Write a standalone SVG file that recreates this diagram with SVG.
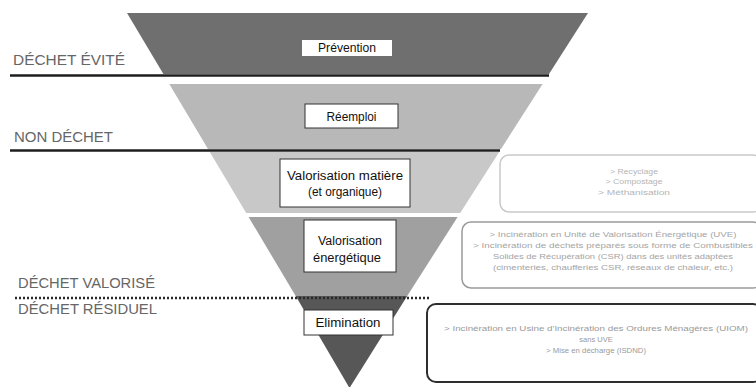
<svg xmlns="http://www.w3.org/2000/svg" width="756" height="387" viewBox="0 0 756 387">
<style>
.lbl{font-family:"Liberation Sans",Arial,sans-serif;font-size:14px;fill:#666}
.node rect{fill:#fff;stroke:#333;stroke-width:1}
.nt{font-family:"Liberation Sans",Arial,sans-serif;font-size:12.5px;fill:#111;text-anchor:middle}
.dt{font-family:"Liberation Sans",Arial,sans-serif;font-size:7.5px;text-anchor:middle}
.sep{stroke:#1e1e1e;stroke-width:2.5}
</style>
<rect width="756" height="387" fill="#fff"/>
<g id="bands">
<polygon points="127,13 588,13 549,74 163.4,74" fill="#6f6f6f"/>
<polygon points="169.3,84 542.6,84 501,149 208,149" fill="#b8b8b8"/>
<polygon points="209.8,152 499.2,152 460.2,213 246.2,213" fill="#c8c8c8"/>
<polygon points="248.6,217 457.6,217 407.2,296 295.7,296" fill="#a0a0a0"/>
<polygon points="295.7,296 407.2,296 349.5,388" fill="#575757"/>
</g>
<g id="connectors">
<line class="sep" x1="10" y1="75.5" x2="549" y2="75.5"/>
<line class="sep" x1="10" y1="150.5" x2="500" y2="150.5"/>
<line x1="15" y1="298" x2="430" y2="298" stroke="#2a2a2a" stroke-width="2.5" stroke-dasharray="2 2"/>
</g>
<g id="labels">
<text class="lbl" x="13" y="65" textLength="112" lengthAdjust="spacingAndGlyphs">DÉCHET ÉVITÉ</text>
<text class="lbl" x="14" y="142" textLength="99" lengthAdjust="spacingAndGlyphs">NON DÉCHET</text>
<text class="lbl" x="18" y="288" textLength="137" lengthAdjust="spacingAndGlyphs">DÉCHET VALORISÉ</text>
<text class="lbl" x="18" y="314" textLength="139" lengthAdjust="spacingAndGlyphs">DÉCHET RÉSIDUEL</text>
</g>
<g id="prevention" class="node">
<rect x="302" y="40" width="90" height="16" style="stroke:none"/>
<text class="nt" x="347" y="52" textLength="58" lengthAdjust="spacingAndGlyphs">Prévention</text>
</g>
<g id="reemploi" class="node">
<rect x="305" y="104" width="93" height="24"/>
<text class="nt" x="351.5" y="121" textLength="50" lengthAdjust="spacingAndGlyphs">Réemploi</text>
</g>
<g id="valorisation-matiere" class="node">
<rect x="280" y="159" width="130" height="48"/>
<text class="nt" x="345" y="180" textLength="116" lengthAdjust="spacingAndGlyphs">Valorisation matière</text>
<text class="nt" x="345" y="196" textLength="74" lengthAdjust="spacingAndGlyphs">(et organique)</text>
</g>
<g id="valorisation-energetique" class="node">
<rect x="304" y="220" width="92" height="52"/>
<text class="nt" x="350" y="245" textLength="64" lengthAdjust="spacingAndGlyphs">Valorisation</text>
<text class="nt" x="347" y="262" textLength="68" lengthAdjust="spacingAndGlyphs">énergétique</text>
</g>
<g id="elimination" class="node">
<rect x="304" y="310" width="89" height="25"/>
<text class="nt" x="348" y="327" textLength="65" lengthAdjust="spacingAndGlyphs">Elimination</text>
</g>
<g id="detail-matiere">
<rect x="500" y="155" width="262" height="57" rx="9" fill="#fff" stroke="#c9c9c9" stroke-width="1.5"/>
<text class="dt" fill="#b5b5b5" x="634" y="174" textLength="48" lengthAdjust="spacingAndGlyphs">&gt; Recyclage</text>
<text class="dt" fill="#b5b5b5" x="634" y="184" textLength="57" lengthAdjust="spacingAndGlyphs">&gt; Compostage</text>
<text class="dt" fill="#b5b5b5" x="634" y="195" textLength="72" lengthAdjust="spacingAndGlyphs">&gt; Méthanisation</text>
</g>
<g id="detail-energetique">
<rect x="462" y="222" width="300" height="66" rx="9" fill="#fff" stroke="#9a9a9a" stroke-width="1.5"/>
<text class="dt" fill="#a5a5a5" x="613" y="237" textLength="247" lengthAdjust="spacingAndGlyphs">&gt; Incinération en Unité de Valorisation Énergétique (UVE)</text>
<text class="dt" fill="#a5a5a5" x="613" y="248" textLength="280" lengthAdjust="spacingAndGlyphs">&gt; Incinération de déchets préparés sous forme de Combustibles</text>
<text class="dt" fill="#a5a5a5" x="613" y="259" textLength="240" lengthAdjust="spacingAndGlyphs">Solides de Récupération (CSR) dans des unités adaptées</text>
<text class="dt" fill="#a5a5a5" x="613" y="270" textLength="240" lengthAdjust="spacingAndGlyphs">(cimenteries, chaufferies CSR, réseaux de chaleur, etc.)</text>
</g>
<g id="detail-elimination">
<rect x="427" y="304" width="335" height="78" rx="9" fill="#fff" stroke="#2e2e2e" stroke-width="2"/>
<text class="dt" fill="#9a9a9a" x="596" y="331" textLength="304" lengthAdjust="spacingAndGlyphs">&gt; Incinération en Usine d'Incinération des Ordures Ménagères (UIOM)</text>
<text class="dt" fill="#9a9a9a" x="596" y="342">sans UVE</text>
<text class="dt" fill="#9a9a9a" x="596" y="353" textLength="100" lengthAdjust="spacingAndGlyphs">&gt; Mise en décharge (ISDND)</text>
</g>
</svg>
